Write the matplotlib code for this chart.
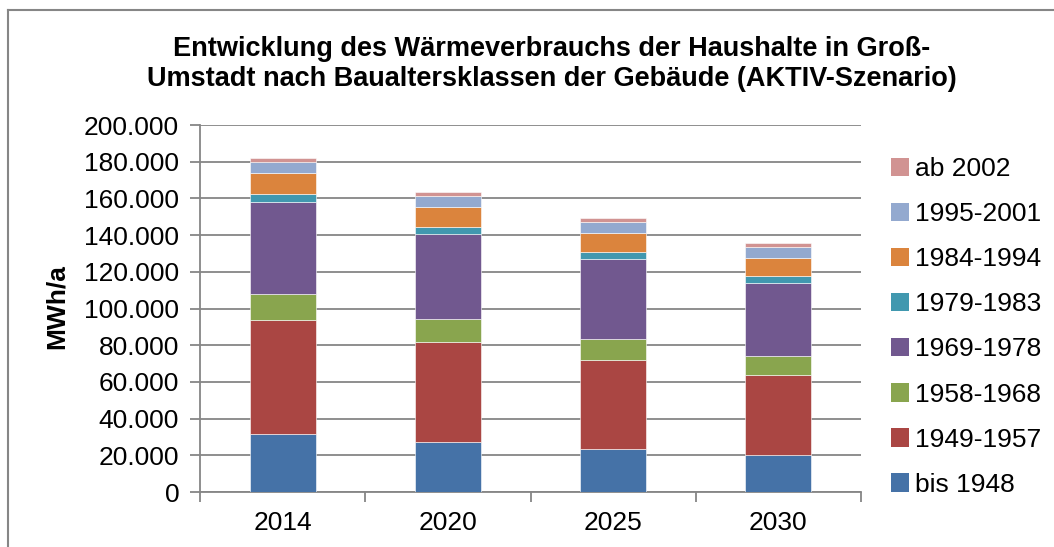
import matplotlib
matplotlib.use("Agg")
import matplotlib.pyplot as plt
from matplotlib.lines import Line2D
from matplotlib.patches import Patch
import numpy as np

plt.rcParams['font.family'] = ['Liberation Sans', 'DejaVu Sans']

years = ["2014", "2020", "2025", "2030"]
classes = ["bis 1948", "1949-1957", "1958-1968", "1969-1978",
           "1979-1983", "1984-1994", "1995-2001", "ab 2002"]
bis_1948 = [31800, 27100, 23600, 20300]
c_1949_1957 = [61900, 54500, 48500, 43500]
c_1958_1968 = [14200, 12500, 11500, 10100]
c_1969_1978 = [50300, 46700, 43200, 40200]
c_1979_1983 = [4200, 3600, 3800, 3800]
c_1984_1994 = [11300, 10700, 10400, 9800]
c_1995_2001 = [6000, 6400, 6000, 6000]
ab_2002 = [2300, 2000, 2300, 2200]
series = [bis_1948, c_1949_1957, c_1958_1968, c_1969_1978,
          c_1979_1983, c_1984_1994, c_1995_2001, ab_2002]
colors = ["#4572A7", "#AA4643", "#89A54E", "#71588F",
          "#4198AF", "#DB843D", "#93A9CF", "#D19392"]

W, H = 1054, 547
fig = plt.figure(figsize=(W/100, H/100), dpi=100)
ax = fig.add_axes([200/W, 55/H, 661/W, 367/H])

x = np.arange(len(years))
bottom = np.zeros(len(years))
for vals, col, lab in zip(series, colors, classes):
    ax.bar(x, vals, 0.4, bottom=bottom, color=col, label=lab, zorder=3,
           edgecolor='white', linewidth=0.4)
    bottom += np.array(vals)

ax.set_xlim(-0.5, len(years) - 0.5)
ax.set_ylim(0, 200000)
yt = np.arange(0, 200001, 20000)
ax.set_yticks(yt)
ax.set_yticklabels(["0" if v == 0 else f"{v:,}".replace(",", ".") for v in yt],
                   fontsize=19)
ax.yaxis.grid(True, color="#868686", linewidth=1.3, zorder=0)
ax.set_xticks(x)
ax.set_xticklabels(years, fontsize=19)
ax.set_xticks(np.arange(-0.5, len(years), 1), minor=True)
ax.tick_params(axis='x', which='major', length=0, pad=14)
ax.tick_params(axis='x', which='minor', length=7, color="#868686", width=1.3, direction='out')
ax.tick_params(axis='y', length=7, color="#868686", width=1.3, direction='out', pad=8)
for s in ['top', 'right']:
    ax.spines[s].set_visible(False)
for s in ['left', 'bottom']:
    ax.spines[s].set_color("#868686")
    ax.spines[s].set_linewidth(1.3)

fig.text(57/W, 1 - 307/H, "MWh/a", rotation=90, fontsize=19, fontweight='bold',
         ha='center', va='center')
fig.text(552/W, 1 - 64/H,
         "Entwicklung des Wärmeverbrauchs der Haushalte in Groß-\nUmstadt nach Baualtersklassen der Gebäude (AKTIV-Szenario)",
         fontsize=19.5, fontweight='bold', ha='center', va='center', linespacing=1.22)

handles = [Patch(facecolor=c, edgecolor='none') for c in colors][::-1]
labels = classes[::-1]
fig.legend(handles, labels, loc='upper left', bbox_to_anchor=(891/W, 1 - 157/H),
           frameon=False, fontsize=19, handlelength=0.7, handleheight=0.7,
           handletextpad=0.2, labelspacing=0.8, borderaxespad=0, borderpad=0)

fig.add_artist(Line2D([8/W, 8/W], [0, 1 - 10/H], color="#868686", linewidth=1.5))
fig.add_artist(Line2D([8/W, 1], [1 - 10/H, 1 - 10/H], color="#868686", linewidth=1.5))

fig.savefig("out.png", dpi=100)
